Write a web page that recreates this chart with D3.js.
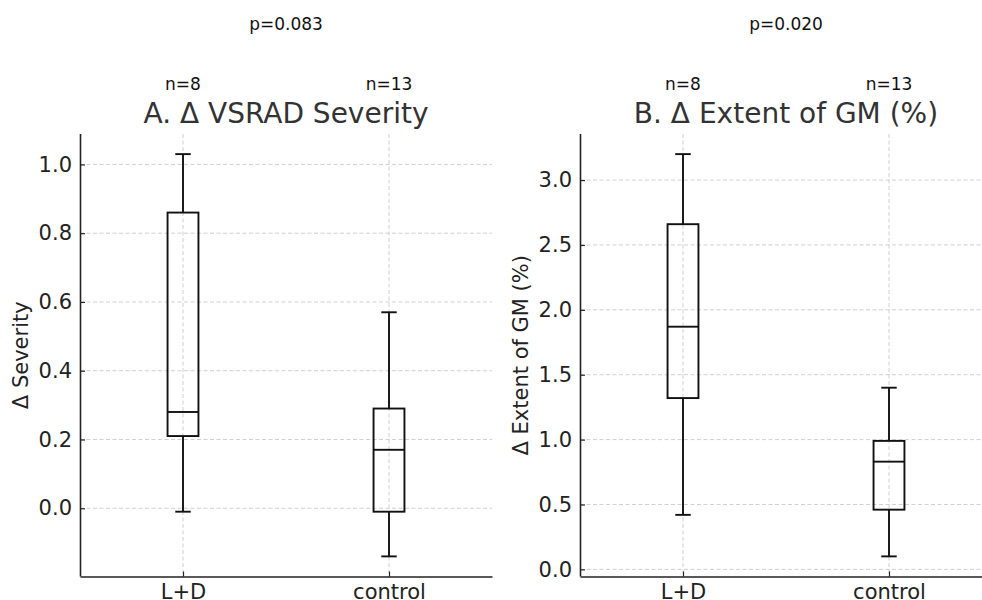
<!DOCTYPE html>
<html>
<head>
<meta charset="utf-8">
<script src="https://cdn.jsdelivr.net/npm/d3@7"></script>
<style>
  body { margin: 0; background: #fff; }
  svg { font-family: "DejaVu Sans", sans-serif; }
</style>
</head>
<body>
<div id="chart"></div>
<script>
// groups and annotations
var groups = ["L+D", "control"];
var counts = ["n=8", "n=13"];

// panel A: Δ VSRAD severity  [min, q1, median, q3, max]
var severityStats = [
  [-0.01, 0.21, 0.28, 0.86, 1.03],
  [-0.14, -0.01, 0.17, 0.29, 0.57]
];
var severityTicks = [0.0, 0.2, 0.4, 0.6, 0.8, 1.0];

// panel B: Δ extent of GM (%)
var extentStats = [
  [0.42, 1.32, 1.87, 2.66, 3.20],
  [0.10, 0.46, 0.83, 0.99, 1.40]
];
var extentTicks = [0.0, 0.5, 1.0, 1.5, 2.0, 2.5, 3.0];

var panels = [
  { title: "A. \u0394 VSRAD Severity", ylabel: "\u0394 Severity", p: "p=0.083",
    stats: severityStats, ticks: severityTicks, left: 80 },
  { title: "B. \u0394 Extent of GM (%)", ylabel: "\u0394 Extent of GM (%)", p: "p=0.020",
    stats: extentStats, ticks: extentTicks, left: 580 }
];

var svgWidth = 982;
var svgHeight = 600;
var axTop = 134;
var axBottom = 576.5;
var axWidth = 412;

var svg = d3.select("#chart")
  .append("svg")
  .attr("width", svgWidth)
  .attr("height", svgHeight);

panels.forEach(function(panel) {
  var g = svg.append("g")
    .attr("transform", `translate(${panel.left}, 0)`);

  // x scale: positions 1, 2 with 0.5 padding each side
  var xScale = d3.scaleLinear()
    .domain([0.5, 2.5])
    .range([0, axWidth]);

  // y scale with 5% margin like matplotlib
  var lo = d3.min(panel.stats, d => d[0]);
  var hi = d3.max(panel.stats, d => d[4]);
  var pad = (hi - lo) * 0.05;
  var yScale = d3.scaleLinear()
    .domain([lo - pad, hi + pad])
    .range([axBottom, axTop]);

  // grid lines
  g.selectAll(".hgrid")
    .data(panel.ticks)
    .enter()
    .append("line")
    .attr("x1", 0)
    .attr("x2", axWidth)
    .attr("y1", d => yScale(d))
    .attr("y2", d => yScale(d))
    .attr("stroke", "#c4c4c4")
    .attr("stroke-width", 0.8)
    .attr("stroke-dasharray", "4,2.5");

  g.selectAll(".vgrid")
    .data(groups)
    .enter()
    .append("line")
    .attr("x1", (d, i) => xScale(i + 1))
    .attr("x2", (d, i) => xScale(i + 1))
    .attr("y1", axTop)
    .attr("y2", axBottom)
    .attr("stroke", "#c4c4c4")
    .attr("stroke-width", 0.8)
    .attr("stroke-dasharray", "4,2.5");

  // axes
  var leftAxis = d3.axisLeft(yScale)
    .tickValues(panel.ticks)
    .tickFormat(d3.format(".1f"))
    .tickSizeInner(-5)
    .tickSizeOuter(0)
    .tickPadding(8);

  var bottomAxis = d3.axisBottom(xScale)
    .tickValues([1, 2])
    .tickFormat((d, i) => groups[i])
    .tickSizeInner(-5)
    .tickSizeOuter(0)
    .tickPadding(8);

  var yAxis = g.append("g").call(leftAxis);
  var xAxis = g.append("g")
    .attr("transform", `translate(0, ${axBottom})`)
    .call(bottomAxis);

  [yAxis, xAxis].forEach(function(ax) {
    ax.select(".domain").attr("stroke", "#222").attr("stroke-width", 1.6);
    ax.selectAll(".tick line").attr("stroke", "#222").attr("stroke-width", 1.2);
    ax.selectAll(".tick text")
      .attr("fill", "#222")
      .attr("font-size", 21)
      .attr("font-family", "DejaVu Sans");
  });
  yAxis.select(".domain").attr("d", `M0.5,${axTop}V${axBottom}`);
  xAxis.selectAll(".tick text").attr("dy", "0.71em").attr("y", 8);

  // boxes
  var boxW = 0.15;
  var boxes = g.selectAll(".box")
    .data(panel.stats)
    .enter()
    .append("g");

  // whiskers
  boxes.append("line")
    .attr("x1", (d, i) => xScale(i + 1))
    .attr("x2", (d, i) => xScale(i + 1))
    .attr("y1", d => yScale(d[0]))
    .attr("y2", d => yScale(d[1]));
  boxes.append("line")
    .attr("x1", (d, i) => xScale(i + 1))
    .attr("x2", (d, i) => xScale(i + 1))
    .attr("y1", d => yScale(d[3]))
    .attr("y2", d => yScale(d[4]));

  // caps
  [0, 4].forEach(function(k) {
    boxes.append("line")
      .attr("x1", (d, i) => xScale(i + 1 - boxW / 4))
      .attr("x2", (d, i) => xScale(i + 1 + boxW / 4))
      .attr("y1", d => yScale(d[k]))
      .attr("y2", d => yScale(d[k]));
  });

  // box
  boxes.append("rect")
    .attr("x", (d, i) => xScale(i + 1 - boxW / 2))
    .attr("width", xScale(1 + boxW / 2) - xScale(1 - boxW / 2))
    .attr("y", d => yScale(d[3]))
    .attr("height", d => yScale(d[1]) - yScale(d[3]))
    .attr("fill", "none");

  // median
  boxes.append("line")
    .attr("x1", (d, i) => xScale(i + 1 - boxW / 2))
    .attr("x2", (d, i) => xScale(i + 1 + boxW / 2))
    .attr("y1", d => yScale(d[2]))
    .attr("y2", d => yScale(d[2]));

  boxes.selectAll("line, rect")
    .attr("stroke", "#111")
    .attr("stroke-width", 1.9);

  // title
  g.append("text")
    .attr("x", axWidth / 2)
    .attr("y", 123)
    .attr("text-anchor", "middle")
    .attr("font-size", 28)
    .attr("fill", "#333")
    .text(panel.title);

  // n labels
  g.selectAll(".nlabel")
    .data(counts)
    .enter()
    .append("text")
    .attr("x", (d, i) => xScale(i + 1))
    .attr("y", 90)
    .attr("text-anchor", "middle")
    .attr("font-size", 17)
    .attr("fill", "#111")
    .text(d => d);

  // p value
  g.append("text")
    .attr("x", xScale(1.5))
    .attr("y", 30)
    .attr("text-anchor", "middle")
    .attr("font-size", 17)
    .attr("fill", "#111")
    .text(panel.p);

  // y label
  g.append("text")
    .attr("transform", `translate(-52, ${(axTop + axBottom) / 2}) rotate(-90)`)
    .attr("text-anchor", "middle")
    .attr("font-size", 21)
    .attr("fill", "#222")
    .text(panel.ylabel);
});
</script>
</body>
</html>
